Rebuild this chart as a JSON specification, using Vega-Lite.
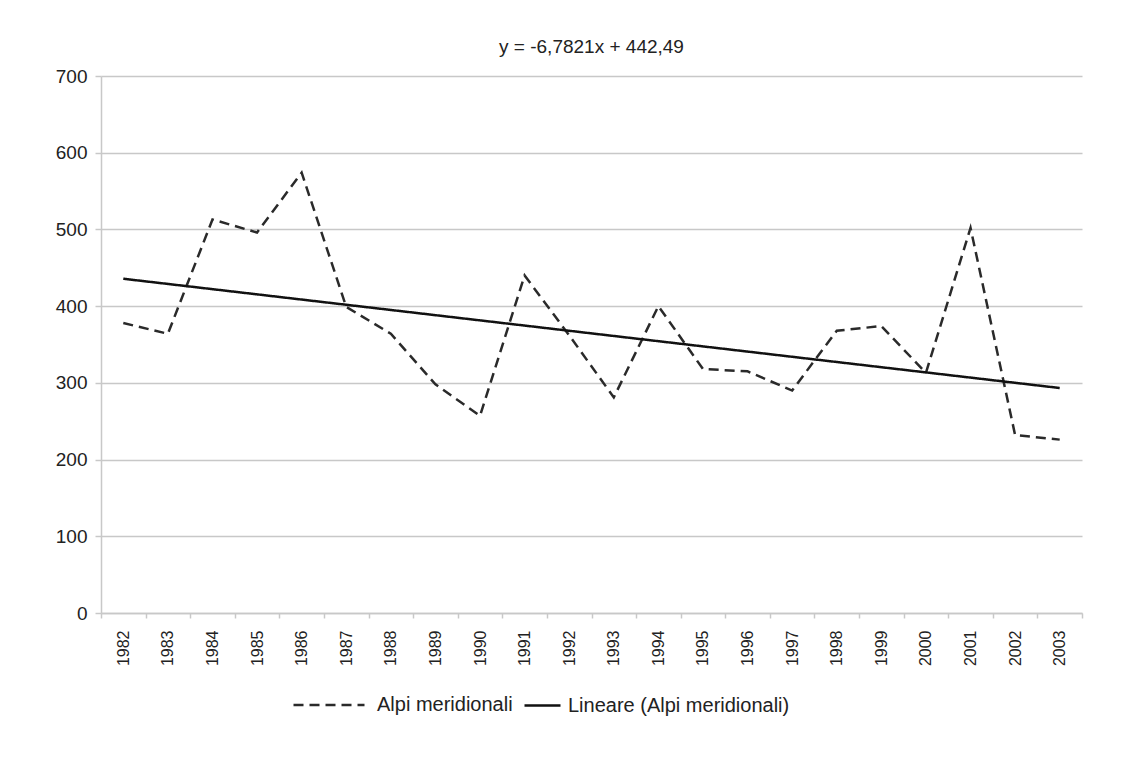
{
  "$schema": "https://vega.github.io/schema/vega-lite/v6.json",
  "width": 981,
  "height": 537,
  "autosize": "none",
  "padding": {"left": 101, "top": 76, "right": 60, "bottom": 144},
  "background": "white",
  "config": {
    "font": "Liberation Sans",
    "view": {"stroke": null}
  },
  "title": {
    "text": "y = -6,7821x + 442,49",
    "fontSize": 19,
    "fontWeight": "normal",
    "color": "#222222",
    "font": "Liberation Sans",
    "anchor": "middle",
    "offset": 10
  },
  "datasets": {
    "obs": [
      {"year": "1982", "value": 378, "series": "Alpi meridionali"},
      {"year": "1983", "value": 364, "series": "Alpi meridionali"},
      {"year": "1984", "value": 513, "series": "Alpi meridionali"},
      {"year": "1985", "value": 496, "series": "Alpi meridionali"},
      {"year": "1986", "value": 574, "series": "Alpi meridionali"},
      {"year": "1987", "value": 399, "series": "Alpi meridionali"},
      {"year": "1988", "value": 364, "series": "Alpi meridionali"},
      {"year": "1989", "value": 298, "series": "Alpi meridionali"},
      {"year": "1990", "value": 257, "series": "Alpi meridionali"},
      {"year": "1991", "value": 440, "series": "Alpi meridionali"},
      {"year": "1992", "value": 362, "series": "Alpi meridionali"},
      {"year": "1993", "value": 281, "series": "Alpi meridionali"},
      {"year": "1994", "value": 400, "series": "Alpi meridionali"},
      {"year": "1995", "value": 318, "series": "Alpi meridionali"},
      {"year": "1996", "value": 315, "series": "Alpi meridionali"},
      {"year": "1997", "value": 290, "series": "Alpi meridionali"},
      {"year": "1998", "value": 368, "series": "Alpi meridionali"},
      {"year": "1999", "value": 374, "series": "Alpi meridionali"},
      {"year": "2000", "value": 313, "series": "Alpi meridionali"},
      {"year": "2001", "value": 502, "series": "Alpi meridionali"},
      {"year": "2002", "value": 232, "series": "Alpi meridionali"},
      {"year": "2003", "value": 226, "series": "Alpi meridionali"}
    ],
    "trend": [
      {"year": "1982", "value": 435.71, "series": "Lineare (Alpi meridionali)"},
      {"year": "1983", "value": 428.93, "series": "Lineare (Alpi meridionali)"},
      {"year": "1984", "value": 422.14, "series": "Lineare (Alpi meridionali)"},
      {"year": "1985", "value": 415.36, "series": "Lineare (Alpi meridionali)"},
      {"year": "1986", "value": 408.58, "series": "Lineare (Alpi meridionali)"},
      {"year": "1987", "value": 401.80, "series": "Lineare (Alpi meridionali)"},
      {"year": "1988", "value": 395.02, "series": "Lineare (Alpi meridionali)"},
      {"year": "1989", "value": 388.23, "series": "Lineare (Alpi meridionali)"},
      {"year": "1990", "value": 381.45, "series": "Lineare (Alpi meridionali)"},
      {"year": "1991", "value": 374.67, "series": "Lineare (Alpi meridionali)"},
      {"year": "1992", "value": 367.89, "series": "Lineare (Alpi meridionali)"},
      {"year": "1993", "value": 361.11, "series": "Lineare (Alpi meridionali)"},
      {"year": "1994", "value": 354.32, "series": "Lineare (Alpi meridionali)"},
      {"year": "1995", "value": 347.54, "series": "Lineare (Alpi meridionali)"},
      {"year": "1996", "value": 340.76, "series": "Lineare (Alpi meridionali)"},
      {"year": "1997", "value": 333.98, "series": "Lineare (Alpi meridionali)"},
      {"year": "1998", "value": 327.19, "series": "Lineare (Alpi meridionali)"},
      {"year": "1999", "value": 320.41, "series": "Lineare (Alpi meridionali)"},
      {"year": "2000", "value": 313.63, "series": "Lineare (Alpi meridionali)"},
      {"year": "2001", "value": 306.85, "series": "Lineare (Alpi meridionali)"},
      {"year": "2002", "value": 300.07, "series": "Lineare (Alpi meridionali)"},
      {"year": "2003", "value": 293.28, "series": "Lineare (Alpi meridionali)"}
    ]
  },
  "encoding": {
    "x": {
      "field": "year",
      "type": "ordinal",
      "scale": {"type": "band", "paddingInner": 0, "paddingOuter": 0},
      "axis": {
        "title": null,
        "labelAngle": 270,
        "labelFontSize": 16,
        "labelColor": "#222222",
        "labelPadding": 12,
        "tickBand": "extent",
        "ticks": true,
        "tickSize": 5,
        "tickColor": "#c8c8c8",
        "tickWidth": 1.5,
        "domainColor": "#c8c8c8",
        "domainWidth": 1.5,
        "grid": false
      }
    },
    "y": {
      "field": "value",
      "type": "quantitative",
      "scale": {"domain": [0, 700]},
      "axis": {
        "title": null,
        "values": [0, 100, 200, 300, 400, 500, 600, 700],
        "labelFontSize": 19,
        "labelColor": "#222222",
        "labelPadding": 8,
        "tickSize": 6,
        "tickColor": "#c8c8c8",
        "tickWidth": 1.5,
        "domainColor": "#c8c8c8",
        "domainWidth": 1.5,
        "grid": true,
        "gridColor": "#c8c8c8",
        "gridWidth": 1.5
      }
    }
  },
  "layer": [
    {
      "data": {"name": "obs"},
      "mark": {"type": "line", "strokeWidth": 2.5, "color": "#2a2a2a"},
      "encoding": {
        "strokeDash": {
          "field": "series",
          "type": "nominal",
          "scale": {"domain": ["Alpi meridionali"], "range": [[10, 6]]},
          "legend": {
            "title": null,
            "orient": "none",
            "legendX": 191,
            "legendY": 592,
            "direction": "horizontal",
            "symbolType": "stroke",
            "symbolSize": 5041,
            "symbolStrokeWidth": 2.5,
            "symbolStrokeColor": "#2a2a2a",
            "labelFontSize": 20,
            "labelColor": "#222222",
            "labelOffset": 11,
            "labelLimit": 500,
            "padding": 0
          }
        }
      }
    },
    {
      "data": {"name": "trend"},
      "mark": {"type": "line", "strokeWidth": 2.5, "color": "#111111"},
      "encoding": {
        "strokeDash": {
          "field": "series",
          "type": "nominal",
          "scale": {"domain": ["Lineare (Alpi meridionali)"], "range": [[1, 0]]},
          "legend": {
            "title": null,
            "orient": "none",
            "legendX": 422,
            "legendY": 610,
            "direction": "horizontal",
            "symbolType": "stroke",
            "symbolSize": 1296,
            "symbolStrokeWidth": 2.5,
            "symbolStrokeColor": "#111111",
            "labelFontSize": 20,
            "labelColor": "#222222",
            "labelOffset": 6,
            "labelLimit": 500,
            "padding": 0
          }
        }
      }
    }
  ],
  "resolve": {
    "scale": {"strokeDash": "independent"},
    "legend": {"strokeDash": "independent"}
  }
}
